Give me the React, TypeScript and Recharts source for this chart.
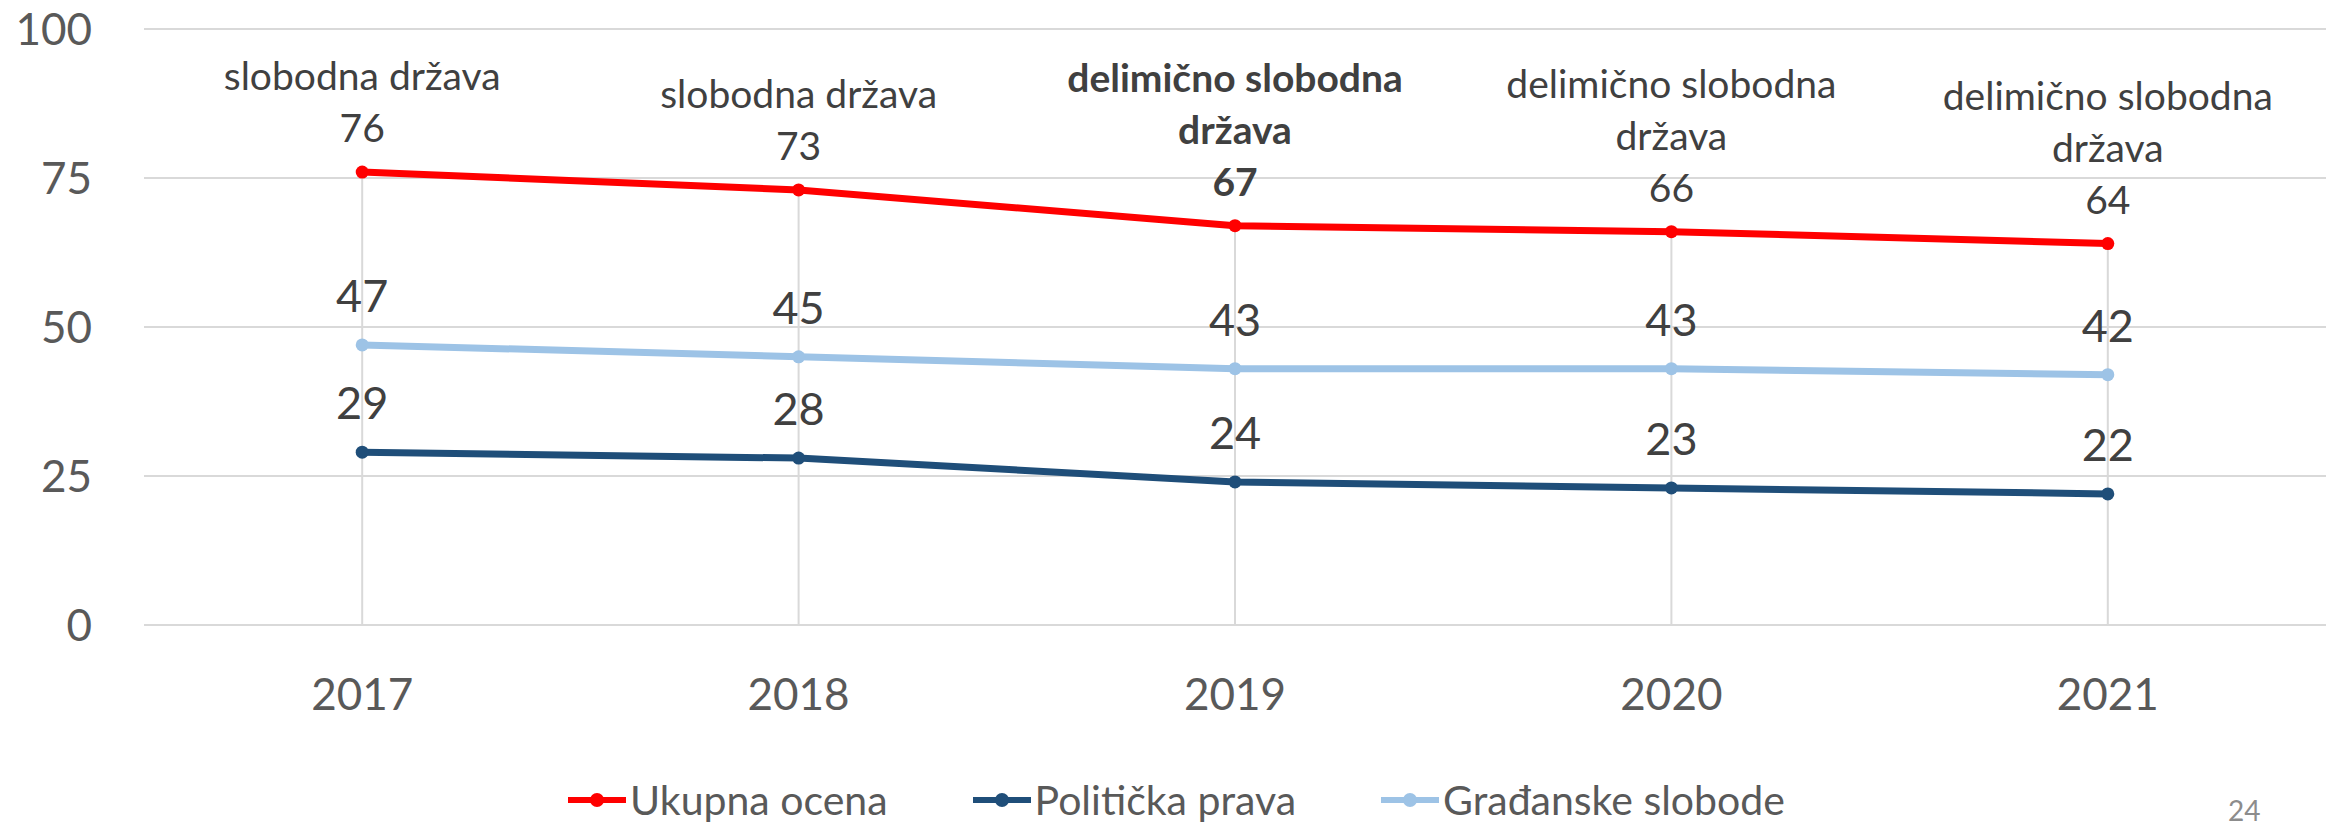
import React from 'react';
import {
  LineChart,
  Line,
  XAxis,
  YAxis,
  CartesianGrid,
  ReferenceLine,
  LabelList,
  Legend,
} from 'recharts';

const years = ['2017', '2018', '2019', '2020', '2021'];
const ukupnaOcena = [76, 73, 67, 66, 64];
const politickaPrava = [29, 28, 24, 23, 22];
const gradjanskeSlobode = [47, 45, 43, 43, 42];
const statusLabels = [
  'slobodna država',
  'slobodna država',
  'delimično slobodna država',
  'delimično slobodna država',
  'delimično slobodna država',
];
const emphasizedYear = '2019';
const yTicks = [0, 25, 50, 75, 100];
const pageNumber = '24';

const FONT = 'Lato, "Open Sans", sans-serif';

const series = [
  { key: 'ukupna', name: 'Ukupna ocena', color: '#FF0000' },
  { key: 'politicka', name: 'Politička prava', color: '#1F4E79' },
  { key: 'gradjanske', name: 'Građanske slobode', color: '#9DC3E6' },
];

const data = years.map((year, i) => ({
  year,
  ukupna: ukupnaOcena[i],
  politicka: politickaPrava[i],
  gradjanske: gradjanskeSlobode[i],
  status: statusLabels[i],
  top: Math.max(ukupnaOcena[i], politickaPrava[i], gradjanskeSlobode[i]),
}));

function wrapStatus(s: string): string[] {
  if (s.length <= 16) return [s];
  const i = s.lastIndexOf(' ');
  return [s.slice(0, i), s.slice(i + 1)];
}

const RedLabel = (props: any) => {
  const { x, y, value, index } = props;
  const d = data[index];
  const bold = d.year === emphasizedYear;
  const lines = [...wrapStatus(d.status), String(value)];
  const n = lines.length;
  return (
    <text
      x={x}
      textAnchor="middle"
      fill="#404040"
      fontSize={39}
      fontWeight={bold ? 700 : 400}
      fontFamily={FONT}
    >
      {lines.map((l, i) => (
        <tspan key={i} x={x} y={y - 30 - (n - 1 - i) * 52}>
          {l}
        </tspan>
      ))}
    </text>
  );
};

const BigLabel = (props: any) => {
  const { x, y, value } = props;
  return (
    <text x={x} y={y - 33} textAnchor="middle" fill="#404040" fontSize={45} fontFamily={FONT}>
      {value}
    </text>
  );
};

const LEGEND_H = 44;

const LegendContent = () => (
  <div
    style={{
      display: 'flex',
      justifyContent: 'center',
      alignItems: 'center',
      height: LEGEND_H,
      gap: 85,
      fontFamily: FONT,
      fontSize: 41,
      color: '#595959',
      paddingLeft: 20,
      boxSizing: 'border-box',
    }}
  >
    {series.map((s) => (
      <div key={s.key} style={{ display: 'flex', alignItems: 'center', height: LEGEND_H }}>
        <svg width={58} height={16}>
          <line x1={0} y1={8} x2={58} y2={8} stroke={s.color} strokeWidth={6} />
          <circle cx={29} cy={8} r={7} fill={s.color} />
        </svg>
        <span style={{ marginLeft: 4, lineHeight: `${LEGEND_H}px`, whiteSpace: 'nowrap' }}>{s.name}</span>
      </div>
    ))}
  </div>
);

export default function App() {
  return (
    <div
      style={{
        position: 'absolute',
        left: 0,
        top: 0,
        width: 2333,
        height: 828,
        overflow: 'hidden',
        background: '#ffffff',
        fontFamily: FONT,
      }}
    >
      <LineChart
        width={2333}
        height={828}
        data={data}
        margin={{ top: 29, right: 7, left: 0, bottom: 49 }}
      >
        <CartesianGrid vertical={false} stroke="#d9d9d9" strokeWidth={2} />
        <XAxis
          dataKey="year"
          scale="band"
          axisLine={false}
          tickLine={false}
          tickSize={0}
          tickMargin={54}
          height={110}
          interval={0}
          tick={{ fill: '#595959', fontSize: 44, fontFamily: FONT }}
        />
        <YAxis
          domain={[0, 100]}
          ticks={yTicks}
          axisLine={false}
          tickLine={false}
          tickSize={0}
          tickMargin={52}
          width={144}
          tick={{ fill: '#595959', fontSize: 44, fontFamily: FONT }}
        />
        {data.map((d) => (
          <ReferenceLine
            key={d.year}
            segment={[
              { x: d.year, y: 0 },
              { x: d.year, y: d.top },
            ]}
            stroke="#d9d9d9"
            strokeWidth={2}
          />
        ))}
        <Legend
          verticalAlign="bottom"
          content={<LegendContent />}
          wrapperStyle={{ top: 778, bottom: 'auto', left: 0, width: 2333, height: LEGEND_H }}
        />
        <Line
          dataKey="gradjanske"
          name="Građanske slobode"
          stroke="#9DC3E6"
          strokeWidth={7}
          dot={{ r: 6.5, fill: '#9DC3E6', stroke: '#9DC3E6', strokeWidth: 0 }}
          activeDot={false}
          isAnimationActive={false}
        >
          <LabelList dataKey="gradjanske" content={BigLabel} />
        </Line>
        <Line
          dataKey="politicka"
          name="Politička prava"
          stroke="#1F4E79"
          strokeWidth={7}
          dot={{ r: 6.5, fill: '#1F4E79', stroke: '#1F4E79', strokeWidth: 0 }}
          activeDot={false}
          isAnimationActive={false}
        >
          <LabelList dataKey="politicka" content={BigLabel} />
        </Line>
        <Line
          dataKey="ukupna"
          name="Ukupna ocena"
          stroke="#FF0000"
          strokeWidth={7}
          dot={{ r: 6.5, fill: '#FF0000', stroke: '#FF0000', strokeWidth: 0 }}
          activeDot={false}
          isAnimationActive={false}
        >
          <LabelList dataKey="ukupna" content={RedLabel} />
        </Line>
      </LineChart>
      <div
        style={{
          position: 'absolute',
          left: 2228,
          top: 794,
          fontSize: 28,
          color: '#8c8c8c',
          fontFamily: FONT,
          lineHeight: 1.2,
        }}
      >
        {pageNumber}
      </div>
    </div>
  );
}
